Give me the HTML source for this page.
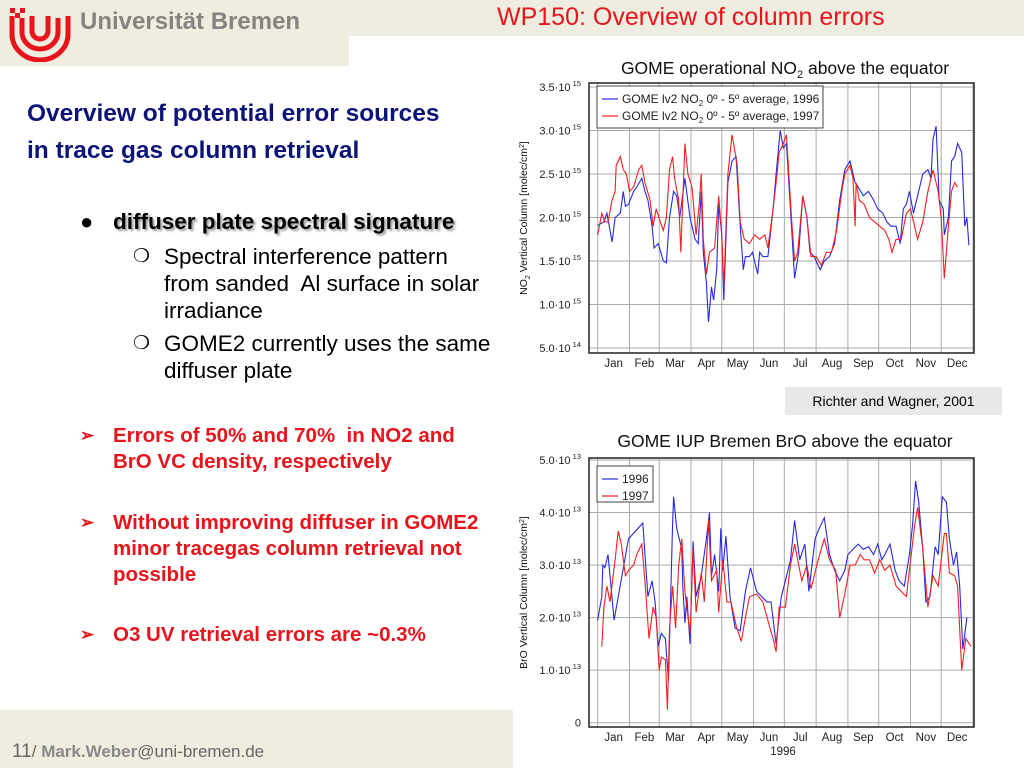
<!DOCTYPE html>
<html><head><meta charset="utf-8"><style>
body{margin:0;width:1024px;height:768px;position:relative;overflow:hidden;background:#fff;font-family:"Liberation Sans",Arial,sans-serif}
.a{position:absolute;white-space:nowrap}
.h{color:#0d1478;font-weight:bold;font-size:24.5px}
.sub{font-size:22.5px;color:#000;line-height:27px}
.red{color:#e8141c;font-weight:bold;font-size:20.5px;line-height:26px}
</style></head><body>
<div class="a" style="left:0;top:0;width:1024px;height:36px;background:#eeede0"></div>
<div class="a" style="left:0;top:0;width:349px;height:66px;background:#eeede0"></div>
<svg class="a" style="left:8px;top:6px" width="64" height="56" viewBox="0 0 64 56">
<path d="M4 10 V28 A28 26 0 0 0 60 28 V10" fill="none" stroke="#e8141c" stroke-width="5"/>
<path d="M14 12 V26 A18 17 0 0 0 50 26 V12" fill="none" stroke="#e8141c" stroke-width="5"/>
<path d="M24 10 V25 A8 8 0 0 0 40 25 V10" fill="none" stroke="#e8141c" stroke-width="5"/>
<rect x="2" y="2" width="5" height="5" fill="#e8141c"/><rect x="12" y="2" width="5" height="5" fill="#e8141c"/><rect x="7" y="7" width="5" height="5" fill="#e8141c"/>
</svg>
<div class="a" style="left:80px;top:8px;font-size:24px;font-weight:bold;color:#8a8280">Universität Bremen</div>
<div class="a" style="left:497px;top:3px;font-size:25px;color:#e8141c">WP150: Overview of column errors</div>
<div class="a h" style="left:27px;top:100px">Overview of potential error sources</div>
<div class="a h" style="left:27px;top:137px">in trace gas column retrieval</div>
<div class="a" style="left:80px;top:209px;font-size:22px">●</div>
<div class="a" style="left:113px;top:209px;font-size:22.5px;font-weight:bold;text-shadow:2px 2px 2px #999">diffuser plate spectral signature</div>
<div class="a sub" style="left:133px;top:243px;font-size:19px">❍</div>
<div class="a sub" style="left:164px;top:243px">Spectral interference pattern<br>from sanded&nbsp; Al surface in solar<br>irradiance</div>
<div class="a sub" style="left:133px;top:330px;font-size:19px">❍</div>
<div class="a sub" style="left:164px;top:330px">GOME2 currently uses the same<br>diffuser plate</div>
<div class="a red" style="left:80px;top:423px;font-size:17px">➢</div>
<div class="a red" style="left:113px;top:423px">Errors of 50% and 70%&nbsp; in NO2 and<br>BrO VC density, respectively</div>
<div class="a red" style="left:80px;top:510px;font-size:17px">➢</div>
<div class="a red" style="left:113px;top:510px">Without improving diffuser in GOME2<br>minor tracegas column retrieval not<br>possible</div>
<div class="a red" style="left:80px;top:622px;font-size:17px">➢</div>
<div class="a red" style="left:113px;top:622px">O3 UV retrieval errors are ~0.3%</div>
<div class="a" style="left:0;top:710px;width:513px;height:58px;background:#eeede0"></div>
<div class="a" style="left:12px;top:741px;font-size:17px;color:#666"><span style="font-size:19px">11</span>/ <b style="color:#888">Mark.Weber</b>@uni-bremen.de</div>
<div class="a" style="left:785px;top:387px;width:217px;height:28px;background:#e8e8e8;font-size:14px;line-height:28px;text-align:center">Richter and Wagner, 2001</div>
<svg class="a" id="charts" style="left:0;top:0" width="1024" height="768"></svg>
<script>
const months=["Jan","Feb","Mar","Apr","May","Jun","Jul","Aug","Sep","Oct","Nov","Dec"];
const monthStarts=[0,31,60,91,121,152,182,213,244,274,305,335,366];
const no2Ticks=[0.5,1,1.5,2,2.5,3,3.5];
const no2TickLabels=["5.0·10","1.0·10","1.5·10","2.0·10","2.5·10","3.0·10","3.5·10"];
const no2TickExp=["14","15","15","15","15","15","15"];
const no2Days96=[0,6,9,14,17,22,25,27,30,35,38,43,46,49,53,55,59,64,67,70,74,77,80,85,90,95,98,101,103,106,108,111,113,116,118,121,123,127,131,135,139,142,144,148,151,156,158,161,166,171,174,178,181,184,189,192,196,200,204,207,211,217,221,226,231,236,241,246,251,254,259,264,269,273,278,282,286,291,295,298,301,304,308,312,317,322,325,327,330,333,337,338,342,345,348,351,355,358,360,362];
const no2Vals96=[1.91,1.95,2.05,1.72,2.0,2.05,2.3,2.13,2.15,2.3,2.35,2.45,2.3,2.2,1.9,1.65,1.7,1.5,1.48,2.0,2.3,2.25,2.0,2.45,2.0,1.75,1.7,2.3,1.6,1.25,0.8,1.2,1.05,1.4,2.15,1.8,1.05,2.4,2.65,2.7,1.9,1.4,1.55,1.55,1.6,1.35,1.6,1.55,1.55,2.1,2.5,3.0,2.8,2.85,1.9,1.3,1.6,2.25,2.0,1.6,1.55,1.4,1.5,1.55,1.7,2.2,2.55,2.65,2.4,2.35,2.25,2.3,2.2,2.1,2.05,1.95,1.9,1.9,1.7,2.1,2.15,2.3,2.05,2.25,2.5,2.55,2.45,2.9,3.05,2.2,2.1,1.8,2.0,2.65,2.7,2.85,2.75,1.9,2.0,1.68];
const no2Days97=[0,4,7,10,14,17,18,22,25,28,31,35,40,43,46,51,54,57,61,64,67,70,73,75,79,81,85,88,92,96,99,101,103,106,109,114,118,121,123,127,131,136,139,143,148,153,158,163,166,171,174,177,181,184,189,192,195,200,204,208,213,218,223,228,233,238,241,246,249,251,252,255,260,265,270,275,280,284,287,291,296,301,305,312,317,322,327,332,335,338,342,345,348,351];
const no2Vals97=[1.8,2.05,1.95,1.95,2.2,2.3,2.6,2.7,2.55,2.5,2.3,2.35,2.55,2.6,2.4,2.2,1.9,2.1,1.95,1.85,2.0,2.55,2.7,2.45,2.2,1.6,2.85,2.5,2.35,1.8,2.15,2.5,1.75,1.35,1.6,1.65,2.25,1.8,1.2,2.5,2.95,2.6,1.95,1.75,1.7,1.8,1.75,1.8,1.65,2.1,2.4,2.75,2.85,2.95,2.0,1.5,1.6,2.25,2.0,1.55,1.55,1.45,1.6,1.6,1.85,2.3,2.5,2.6,2.45,1.9,2.4,2.2,2.15,2.0,1.95,1.9,1.85,1.75,1.6,1.75,1.75,2.05,2.1,1.75,1.95,2.3,2.55,2.3,2.0,1.3,1.9,2.3,2.4,2.35];
const broTicks=[0,1,2,3,4,5];
const broTickLabels=["0","1.0·10","2.0·10","3.0·10","4.0·10","5.0·10"];
const broTickExp=["","13","13","13","13","13"];
const broDays96=[0,4,5,7,10,12,16,30,44,49,53,56,59,62,66,69,73,74,77,82,83,85,87,90,93,96,101,106,109,111,114,118,120,122,125,129,134,139,144,149,155,160,165,169,174,179,183,188,192,197,202,206,212,216,221,226,231,236,241,244,249,254,259,264,269,273,277,280,285,290,294,299,304,307,310,313,317,320,324,329,332,336,340,343,347,350,353,356,360];
const broVals96=[1.95,2.4,3.0,2.95,3.2,2.8,1.95,3.5,3.8,2.4,2.7,2.3,1.45,1.7,1.6,0.8,3.8,4.3,3.7,3.3,2.6,1.9,2.4,1.5,3.45,2.4,2.8,3.5,4.0,2.8,3.2,2.5,3.7,2.9,3.55,2.4,1.8,1.75,2.5,2.95,2.5,2.4,2.3,2.3,1.5,2.4,2.7,3.1,3.85,3.1,3.4,2.5,3.5,3.7,3.9,3.2,2.9,2.7,2.9,3.2,3.3,3.4,3.3,3.35,3.2,3.4,3.1,3.2,3.4,2.9,2.7,2.6,3.2,3.75,4.6,4.2,3.3,2.3,2.4,3.35,3.2,4.3,4.2,3.5,3.0,3.25,2.6,1.4,2.0];
const broDays97=[4,6,9,12,17,20,23,27,30,35,38,43,46,50,54,57,60,62,66,68,70,73,76,79,82,85,90,93,96,101,104,108,111,116,118,122,126,130,135,140,144,148,155,161,168,171,174,177,183,188,192,199,204,208,215,221,226,232,236,241,246,251,256,260,265,270,275,280,285,291,296,301,304,309,312,317,322,327,332,338,340,343,348,351,355,359,364];
const broVals97=[1.45,2.2,2.6,2.3,3.1,3.65,3.4,2.8,2.9,3.0,3.2,3.4,2.7,1.6,2.2,2.0,1.0,1.25,1.2,0.25,1.8,2.6,1.8,3.0,3.5,2.5,1.7,3.3,2.1,2.85,2.3,3.85,2.7,2.9,2.1,3.1,2.3,2.3,1.85,1.55,2.0,2.4,2.45,2.3,1.8,1.6,1.35,2.2,2.2,3.0,3.4,2.7,3.0,2.55,3.1,3.5,3.1,2.9,2.0,2.45,3.0,3.0,3.2,3.1,3.1,2.85,3.1,2.9,3.0,2.6,2.5,2.4,2.9,3.75,4.1,3.3,2.2,2.8,2.6,3.6,3.6,2.85,2.8,2.6,1.0,1.6,1.45];

const NS="http://www.w3.org/2000/svg";
const svg=document.getElementById('charts');
function mk(tag,attrs,parent){const e=document.createElementNS(NS,tag);for(const k in attrs)e.setAttribute(k,attrs[k]);(parent||svg).appendChild(e);return e;}
function drawChart(cfg){
  const g=mk('g',{});
  
  
  const xd=d=>cfg.x0+(d/365)*(cfg.x1-cfg.x0);
  const yv=v=>cfg.yTop+(cfg.vMax-v)/(cfg.vMax-cfg.vMin)*(cfg.yBot-cfg.yTop);
  mk('rect',{x:cfg.fx0,y:cfg.fy0,width:cfg.fx1-cfg.fx0,height:cfg.fy1-cfg.fy0,fill:'#fff',stroke:'none'},g);
  cfg.ticks.forEach((t,i)=>{
    const l=mk('line',{x1:cfg.fx0,x2:cfg.fx1,y1:yv(t),y2:yv(t),stroke:'#aaa','stroke-width':1},g);
    
    
    const tx=mk('text',{x:cfg.fx0-8,y:yv(t)+4,'text-anchor':'end','font-size':11,fill:'#222'},g);
    
    
    tx.textContent=cfg.labels[i];
    if(cfg.exps[i]){const s=mk('tspan',{dy:-5,'font-size':7.5},tx);s.textContent=' '+cfg.exps[i];}
  });
  monthStarts.forEach(m=>{
    const l=mk('line',{x1:xd(m),x2:xd(m),y1:cfg.fy0,y2:cfg.fy1,stroke:'#aaa','stroke-width':1},g);
    
    
  });
  months.forEach((m,i)=>{
    const t=mk('text',{x:xd((monthStarts[i]+monthStarts[i+1])/2),y:cfg.fy1+14,'text-anchor':'middle','font-size':11.5,fill:'#222'},g);
    
    
    t.textContent=m;
  });
  mk('rect',{x:cfg.fx0,y:cfg.fy0,width:cfg.fx1-cfg.fx0,height:cfg.fy1-cfg.fy0,fill:'none',stroke:'#222','stroke-width':1.5},g);
  cfg.series.forEach(s=>{
    const p=mk('polyline',{points:s.days.map((d,i)=>xd(d).toFixed(1)+','+yv(s.vals[i]).toFixed(1)).join(' '),fill:'none',stroke:s.color,'stroke-width':1.1},g);
    
    
  });
  const lg=mk('g',{},g);
  
  
  mk('rect',{x:cfg.lx,y:cfg.ly,width:cfg.lw,height:cfg.lh,fill:'#fff',stroke:'#444'},lg);
  cfg.series.forEach((s,i)=>{
    const yy=cfg.ly+13+i*17;
    mk('line',{x1:cfg.lx+5,x2:cfg.lx+21,y1:yy,y2:yy,stroke:s.color,'stroke-width':1.2},lg);
    const t=mk('text',{x:cfg.lx+25,y:yy+4,'font-size':12,fill:'#222'},lg);
    
    
    t.innerHTML=s.label;
  });
  const tt=mk('text',{x:785,y:cfg.titleY,'text-anchor':'middle','font-size':17.5,fill:'#111'},g);
  
  
  tt.innerHTML=cfg.title;
  const yt=mk('text',{x:0,y:0,'text-anchor':'middle','font-size':10.5,fill:'#111',transform:'translate(527,'+((cfg.fy0+cfg.fy1)/2)+') rotate(-90)'},g);
  
  
  yt.innerHTML=cfg.ytitle;
}
drawChart({name:'no2-chart',x0:597.7,x1:972,fx0:589,fx1:974,fy0:83,fy1:353,yTop:87,yBot:348,vMin:0.5,vMax:3.5,
  ticks:no2Ticks,labels:no2TickLabels,exps:no2TickExp,lx:597,ly:86,lw:226,lh:42,titleY:74,
  title:'GOME operational NO<tspan font-size="11" dy="4">2</tspan><tspan dy="-4"> above the equator</tspan>',
  ytitle:'NO<tspan font-size="7" dy="3">2</tspan><tspan dy="-3"> Vertical Column [molec/cm</tspan><tspan font-size="7" dy="-3">2</tspan><tspan dy="3">]</tspan>',
  series:[{name:'no2-1996-line',days:no2Days96,vals:no2Vals96,color:'#2828e0',label:'GOME lv2 NO<tspan font-size="8" dy="3">2</tspan><tspan dy="-3"> 0º - 5º average, 1996</tspan>'},
          {name:'no2-1997-line',days:no2Days97,vals:no2Vals97,color:'#f02020',label:'GOME lv2 NO<tspan font-size="8" dy="3">2</tspan><tspan dy="-3"> 0º - 5º average, 1997</tspan>'}]});
drawChart({name:'bro-chart',x0:597.7,x1:972,fx0:589,fx1:974,fy0:458,fy1:727,yTop:460,yBot:722.7,vMin:0,vMax:5,
  ticks:broTicks,labels:broTickLabels,exps:broTickExp,lx:597,ly:466,lw:56,lh:36,titleY:447,
  title:'GOME IUP Bremen BrO above the equator',
  ytitle:'BrO Vertical Column [molec/cm<tspan font-size="7" dy="-3">2</tspan><tspan dy="3">]</tspan>',
  series:[{name:'bro-1996-line',days:broDays96,vals:broVals96,color:'#2828e0',label:'1996'},
          {name:'bro-1997-line',days:broDays97,vals:broVals97,color:'#f02020',label:'1997'}]});
const yr=mk('text',{x:783,y:755,'text-anchor':'middle','font-size':11.5,fill:'#222'});


yr.textContent='1996';
</script>
</body></html>
